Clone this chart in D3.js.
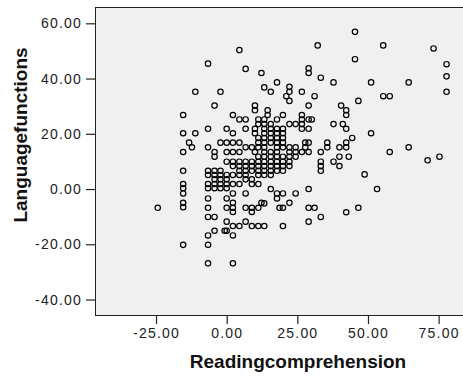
<!DOCTYPE html>
<html>
<head>
<meta charset="utf-8">
<script src="https://cdn.jsdelivr.net/npm/d3@7"></script>
<style>
  body { margin: 0; background: #fff; }
  svg { display: block; }
</style>
</head>
<body>
<svg id="chart" width="463" height="381"></svg>
<script>
// axis setup
const xTicks = [-25, 0, 25, 50, 75];
const yTicks = [-40, -20, 0, 20, 40, 60];
const xTitle = 'Readingcomprehension';
const yTitle = 'Languagefunctions';

// scatter values, grouped by reading score: [reading, [language, ...]]
const columns = [
  [-24.4, [-6.8]],
  [-15.4, [26.8, 20.2, 13.4, 6.6, 1.8, 0.3, -1.6, -5.0, -6.6, -20.2]],
  [-13.3, [16.8]],
  [-12.3, [15.1]],
  [-11.1, [35.2, 20.2]],
  [-6.6, [45.4, 21.8, 15.1, 6.6, 5.1, 1.8, 0.3, -3.4, -6.8, -10.1, -16.8, -20.2, -26.9]],
  [-4.3, [30.2, 13.4, 11.7, 6.6, 5.1, 3.5, 1.8, 0.3, -10.1, -15.1]],
  [-2.2, [35.2, 16.8, 6.6, 5.1, 3.5, 1.8, 0.3]],
  [-0.7, [-15.1]],
  [0, [21.8, 16.8, 13.4, 9.9, 5.1, 3.5, 1.8, 0.3, -3.4, -6.8, -11.8, -15.1]],
  [2.2, [26.8, 20.2, 16.8, 13.4, 9.9, 8.3, 5.1, 1.8, -1.6, -5.0, -6.8, -8.3, -13.4, -16.8, -26.9]],
  [4.5, [50.3, 25.2, 16.8, 13.4, 9.9, 8.3, 6.6, 5.1, 1.8, -13.4]],
  [6.7, [43.5, 25.2, 21.8, 15.1, 9.9, 8.3, 6.6, 5.1, 3.5, -1.6, -6.8, -11.8]],
  [8.9, [15.1, 9.9, 8.3, 6.6, 3.5, 1.8, -6.8, -8.3, -13.4]],
  [10.0, [30.2, 28.5, 21.8, 20.2, 13.4]],
  [11.2, [25.2, 23.5, 18.5, 16.8, 15.1, 11.7, 9.9, 8.3, 6.6, 5.1, 1.8, -6.8, -13.4]],
  [12.3, [42.0, -5.0]],
  [13.3, [36.8, 25.2, 23.5, 21.8, 20.2, 18.5, 16.8, 15.1, 13.4, 11.7, 9.9, 8.3, 6.6, 5.1, -5.2, -13.4]],
  [14.5, [28.5, 26.8]],
  [15.6, [35.2, 23.5, 21.8, 20.2, 18.5, 16.8, 13.4, 11.7, 9.9, 8.3, 6.6, 5.1, 0.0]],
  [17.8, [38.6, 25.2, 21.8, 20.2, 18.5, 16.8, 15.1, 13.4, 11.7, 9.9, 8.3, 6.6, -1.6, -3.4]],
  [18.7, [-6.8]],
  [19.9, [26.8, 21.8, 20.2, 18.5, 16.8, 15.1, 11.7, 9.9, 8.3, 6.6, -1.6, -6.8, -13.4]],
  [21.1, [33.6]],
  [22.2, [37.0, 35.2, 31.9, 23.5, 15.1, 13.4, 11.7, 9.9, 8.3, -5.0]],
  [24.4, [23.5, 15.1, 13.4, 11.7, -1.6]],
  [26.6, [35.2, 26.8, 25.2, 23.5, 21.8, 13.4]],
  [27.8, [16.8, 15.1]],
  [29.0, [43.7, 42.0, 30.2, 25.2, 21.8, 16.8, 13.4, 0.0, -6.8, -11.8]],
  [30.1, [25.2]],
  [31.1, [33.6, -6.8]],
  [32.2, [52.0]],
  [33.3, [40.3, 13.4, 9.9, 8.3, 6.6, -10.1]],
  [35.6, [16.8, 15.1]],
  [37.8, [38.6, 23.5, 9.9]],
  [39.9, [15.1, 11.7, 8.3]],
  [40.5, [30.2]],
  [41.1, [23.5]],
  [42.3, [28.5, 26.8, 21.8, 16.8, 15.1, -8.4]],
  [43.2, [11.7]],
  [44.4, [18.5]],
  [45.4, [56.9, 47.0]],
  [46.6, [31.9, -6.8]],
  [48.8, [5.3]],
  [51.1, [38.6, 20.2]],
  [53.2, [0.0]],
  [55.4, [52.0, 33.6]],
  [57.7, [33.6, 13.4]],
  [64.4, [38.6, 15.1]],
  [71.1, [10.4]],
  [73.2, [50.9]],
  [75.3, [11.7]],
  [77.8, [45.2, 40.8, 35.2]]
];

const points = columns.flatMap(([rx, ys]) => ys.map(ly => ({ rx, ly })));

const svg = d3.select('#chart');
const plot = { left: 95, top: 7, right: 470, bottom: 315 };

const x = d3.scaleLinear().domain([-46.6, 86.1]).range([plot.left, plot.right]);
const y = d3.scaleLinear().domain([-45.6, 65.9]).range([plot.bottom, plot.top]);

// plot background + frame
svg.append('rect')
  .attr('x', plot.left + 0.5)
  .attr('y', plot.top + 0.5)
  .attr('width', plot.right - plot.left)
  .attr('height', plot.bottom - plot.top)
  .attr('fill', '#f0f0f0')
  .attr('stroke', '#222')
  .attr('stroke-width', 1);

const fmt = d => d.toFixed(2);

const yAxis = svg.append('g')
  .attr('transform', `translate(${plot.left},0)`)
  .call(d3.axisLeft(y).tickValues(yTicks).tickFormat(fmt).tickSize(9).tickSizeOuter(0).tickPadding(4));

const xAxis = svg.append('g')
  .attr('transform', `translate(0,${plot.bottom})`)
  .call(d3.axisBottom(x).tickValues(xTicks).tickFormat(fmt).tickSize(9).tickSizeOuter(0).tickPadding(4));

[xAxis, yAxis].forEach(g => {
  g.select('.domain').remove();
  g.selectAll('.tick line').attr('stroke', '#222').attr('stroke-width', 1.2);
  g.selectAll('.tick text')
    .attr('fill', '#222')
    .style('font-family', '"Liberation Sans", Arial, sans-serif')
    .style('font-size', '14px')
    .style('letter-spacing', '1.2px');
});

// points
svg.append('g')
  .selectAll('circle')
  .data(points)
  .join('circle')
  .attr('cx', d => x(d.rx))
  .attr('cy', d => y(d.ly))
  .attr('r', 2.7)
  .attr('fill', 'none')
  .attr('stroke', '#000')
  .attr('stroke-width', 1.2);

// axis titles
svg.append('text')
  .attr('x', 298)
  .attr('y', 368)
  .attr('text-anchor', 'middle')
  .style('font-family', '"Liberation Sans", Arial, sans-serif')
  .style('font-weight', 'bold')
  .style('font-size', '19px')
  .attr('fill', '#111')
  .text(xTitle);

svg.append('text')
  .attr('transform', 'translate(27,135) rotate(-90)')
  .attr('text-anchor', 'middle')
  .style('font-family', '"Liberation Sans", Arial, sans-serif')
  .style('font-weight', 'bold')
  .style('font-size', '19px')
  .attr('fill', '#111')
  .text(yTitle);
</script>
</body>
</html>
